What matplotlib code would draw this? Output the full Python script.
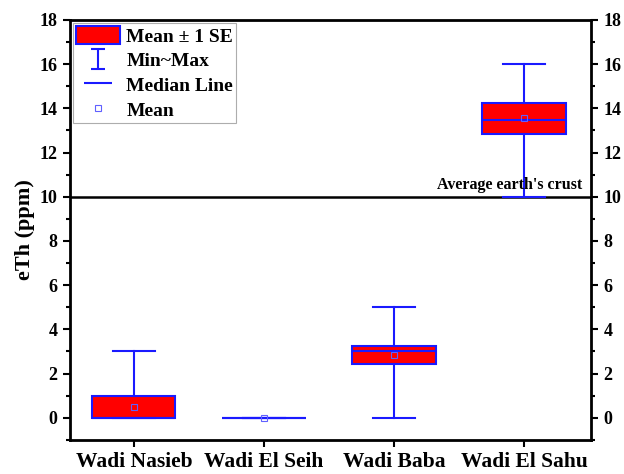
import numpy as np
import matplotlib.pyplot as plt
from matplotlib.patches import Patch
from matplotlib.lines import Line2D
from matplotlib.path import Path

plt.rcParams['font.family'] = ['Liberation Serif', 'DejaVu Serif']
plt.rcParams['font.weight'] = 'bold'

# eTh (ppm) per wadi
sites = ["Wadi Nasieb", "Wadi El Seih", "Wadi Baba", "Wadi El Sahu"]
mins = [0.0, 0.0, 0.0, 10.0]
maxs = [3.0, 0.0, 5.0, 16.0]
means = [0.5, 0.0, 2.85, 13.55]
se_low = [0.0, 0.0, 2.43, 12.85]
se_high = [1.0, 0.0, 3.25, 14.25]
medians = [0.0, 0.0, 3.0, 13.45]
crust_avg = 10.0

BLUE = '#1a1aff'

fig, ax = plt.subplots(figsize=(6.24, 4.74), dpi=100)
fig.subplots_adjust(left=0.112, right=0.947, top=0.958, bottom=0.072)

stats = []
for i in range(len(sites)):
    stats.append(dict(whislo=mins[i], q1=se_low[i], med=medians[i], q3=se_high[i],
                      whishi=maxs[i], mean=means[i], label=sites[i]))

pos = np.arange(1, len(sites) + 1)
ax.bxp(stats, positions=pos, widths=0.64, showmeans=True, showfliers=False,
       patch_artist=True,
       boxprops=dict(facecolor='red', edgecolor=BLUE, linewidth=1.5),
       whiskerprops=dict(color=BLUE, linewidth=1.5),
       capprops=dict(color=BLUE, linewidth=1.5),
       medianprops=dict(color=BLUE, linewidth=1.5),
       meanprops=dict(marker='s', markersize=4, markerfacecolor='none',
                      markeredgecolor='#6060ff', markeredgewidth=0.8),
       capwidths=0.32)

# average earth's crust reference
ax.axhline(crust_avg, color='black', linewidth=1.8, zorder=1)
ax.text(4.45, crust_avg + 0.33, "Average earth's crust", ha='right', va='baseline',
        fontsize=11.5, fontweight='bold')

ax.set_xlim(0.508, 4.515)
ax.set_ylim(-1, 18)
ax.set_xticks(pos)
ax.set_xticklabels(sites, fontsize=15.5, fontweight='bold')
ax.set_yticks(np.arange(0, 19, 2))
ax.set_yticks(np.arange(-1, 18, 1), minor=True)
ax.set_ylabel("eTh (ppm)", fontsize=16, fontweight='bold', labelpad=3)

ax.tick_params(axis='y', which='both', right=True, labelright=True, direction='out',
               labelsize=13, width=1.5)
ax.tick_params(axis='y', which='major', length=5, pad=4)
ax.tick_params(axis='y', which='minor', length=3)
ax.tick_params(axis='x', direction='out', length=5, width=1.5)
for sp in ax.spines.values():
    sp.set_linewidth(2)

# legend proxies
ibar = Path([(-0.7, -1), (0.7, -1), (0, -1), (0, 1), (-0.7, 1), (0.7, 1)],
            [Path.MOVETO, Path.LINETO, Path.MOVETO, Path.LINETO, Path.MOVETO, Path.LINETO])
hline = Path([(-1, 0), (1, 0)], [Path.MOVETO, Path.LINETO])
h_box = Patch(facecolor='red', edgecolor=BLUE, linewidth=1.5)
h_mm = Line2D([], [], color=BLUE, linestyle='none', marker=ibar, markersize=15,
              markeredgewidth=1.5)
h_med = Line2D([], [], color=BLUE, linestyle='none', marker=hline, markersize=20,
               markeredgewidth=1.5)
h_mean = Line2D([], [], color='#6060ff', linestyle='none', marker='s', markersize=4,
                markerfacecolor='none', markeredgewidth=0.8)
leg = ax.legend([h_box, h_mm, h_med, h_mean],
                ["Mean \u00b1 1 SE", "Min~Max", "Median Line", "Mean"],
                loc='upper left', fontsize=14, frameon=True, fancybox=False,
                borderaxespad=0.15, handlelength=2.3, handleheight=1.1,
                labelspacing=0.25, borderpad=0.15, handletextpad=0.3)
leg.get_frame().set_edgecolor('#999999')
leg.get_frame().set_linewidth(0.8)

fig.savefig("out.png", dpi=100)
